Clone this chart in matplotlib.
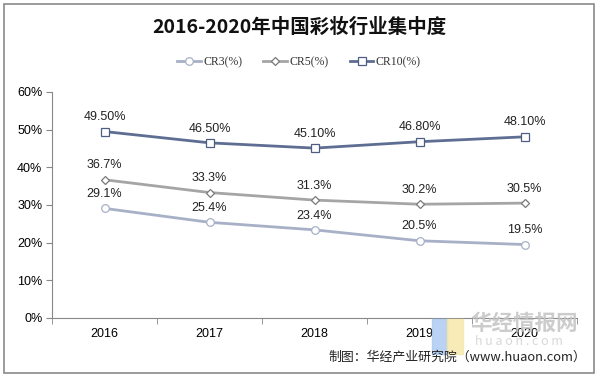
import matplotlib.pyplot as plt
from matplotlib.patches import Rectangle
from matplotlib.ticker import FixedLocator, FuncFormatter

plt.rcParams['font.family'] = ['Noto Sans CJK SC', 'DejaVu Sans']

years = ["2016", "2017", "2018", "2019", "2020"]
cr3 = [29.1, 25.4, 23.4, 20.5, 19.5]
cr5 = [36.7, 33.3, 31.3, 30.2, 30.5]
cr10 = [49.5, 46.5, 45.1, 46.8, 48.1]
cr3_labels = ["29.1%", "25.4%", "23.4%", "20.5%", "19.5%"]
cr5_labels = ["36.7%", "33.3%", "31.3%", "30.2%", "30.5%"]
cr10_labels = ["49.50%", "46.50%", "45.10%", "46.80%", "48.10%"]

fig = plt.figure(figsize=(5.98, 3.77), dpi=100)

# faint watermark logo + name behind the chart
fig.patches.append(Rectangle((0.722, 0.06), 0.026, 0.095, transform=fig.transFigure,
                             color="#a9c9f2", alpha=0.8, zorder=0))
fig.patches.append(Rectangle((0.748, 0.06), 0.026, 0.095, transform=fig.transFigure,
                             color="#f6e7a6", alpha=0.8, zorder=0))
fig.text(0.787, 0.125, "华经情报网", fontsize=15.5, fontweight="bold", color="#c4c4c4",
         alpha=0.85, zorder=0)
fig.text(0.795, 0.085, "h u a o n . c o m", fontsize=9, color="#d4d4d4", alpha=0.9,
         zorder=0)

ax = fig.add_axes([0.087, 0.1565, 0.878, 0.5995])
ax.patch.set_alpha(0)

x = list(range(len(years)))
series = [
    ("CR3(%)", cr3, cr3_labels, "#a7b0c6", "o", "#a7b0c6", 5.5),
    ("CR5(%)", cr5, cr5_labels, "#a5a5a5", "D", "#7a7a7a", 4.5),
    ("CR10(%)", cr10, cr10_labels, "#5e6d92", "s", "#4e5d82", 5.5),
]
for name, vals, labels, color, marker, edge, ms in series:
    ax.plot(x, vals, color=color, lw=2.0, marker=marker, ms=ms,
            mfc="white", mec=edge, mew=0.9, label=name)
    for xi, v, lab in zip(x, vals, labels):
        ax.annotate(lab, (xi, v), xytext=(0, 6), textcoords="offset points",
                    ha="center", va="bottom", fontsize=9, family="Liberation Sans",
                    color="#222222")

ax.set_xlim(-0.5, len(years) - 0.5)
ax.set_ylim(0, 60)
ax.set_yticks(range(0, 61, 10))
ax.yaxis.set_major_formatter(FuncFormatter(lambda v, p: f"{v:.0f}%"))
ax.set_xticks(x)
ax.set_xticklabels(years, fontsize=9, family="Liberation Sans")
ax.xaxis.set_minor_locator(FixedLocator([i - 0.5 for i in range(len(years) + 1)]))
ax.tick_params(axis="x", which="major", length=0, pad=7)
ax.tick_params(axis="x", which="minor", length=4, color="#888888")
ax.tick_params(axis="y", length=4, color="#888888", labelsize=9, pad=3)
for lab in ax.get_yticklabels():
    lab.set_family("Liberation Sans")
for s in ["top", "right"]:
    ax.spines[s].set_visible(False)
for s in ["left", "bottom"]:
    ax.spines[s].set_color("#888888")

fig.text(0.5, 0.928, "2016-2020年中国彩妆行业集中度", ha="center", va="center",
         fontsize=14, fontweight="bold", color="#111111")
fig.legend(loc="center", bbox_to_anchor=(0.5, 0.835), ncol=3, frameon=False,
           prop={"family": ["Liberation Serif", "Noto Sans CJK SC"], "size": 8.5},
           handlelength=2.0, columnspacing=1.8, handletextpad=0.2,
           labelcolor="#333333")

fig.text(0.98, 0.052, "制图：华经产业研究院（www.huaon.com）", ha="right", va="center",
         fontsize=9.3, color="#222222")

fig.patches.append(Rectangle((0.006, 0.01), 0.987, 0.98, transform=fig.transFigure,
                             fill=False, edgecolor="#8a8a8a", lw=1.2))

fig.savefig("out.png", dpi=100)
